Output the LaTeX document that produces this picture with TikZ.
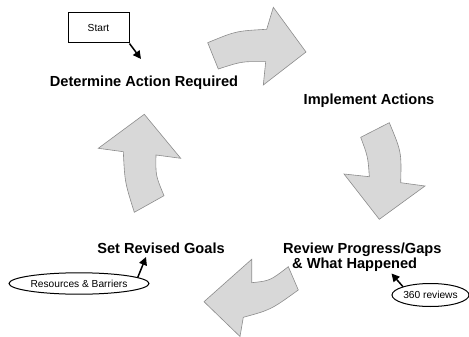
\documentclass[tikz,border=0pt]{standalone}
\usepackage{fontspec}
\setmainfont{Liberation Sans}
\usetikzlibrary{arrows.meta,shapes.geometric}
\definecolor{blockfill}{RGB}{216,216,216}
\definecolor{blockline}{RGB}{140,140,140}
\begin{document}
\begin{tikzpicture}[x=1pt,y=-1pt,
  block/.style={fill=blockfill,draw=blockline,line width=0.6pt,line join=miter},
  stagelabel/.style={font=\fontsize{14.6}{16}\selectfont\bfseries,inner sep=0pt},
  notelabel/.style={font=\fontsize{10.2}{12}\selectfont,inner sep=0pt},
  pointer/.style={draw=black,line width=1.5pt,-{Triangle[length=8pt,width=8pt]}}]
\useasboundingbox (0,0) rectangle (469,337);

% curved block arrows of the cycle
\path[block] (207.7,42.7) .. controls (236,31) .. (266.7,29.3) -- (273.3,7.3)
  -- (306,52) -- (263.3,85) -- (265.7,61.7) .. controls (242,61.3) .. (218.3,69) -- cycle;
\path[block] (360.7,137.3) -- (389.3,122.7) .. controls (401.5,152) .. (400.7,182.7)
  -- (425,186) -- (379.3,219.3) -- (344,174) -- (369.3,176.7)
  .. controls (368,157) .. cycle;
\path[block] (288.3,266.7) -- (298.3,290) .. controls (270.8,309.8) .. (243.3,317.3)
  -- (240,336.5) -- (204,301.7) -- (251.7,259.3) -- (251.7,282.7)
  .. controls (270,280.8) .. cycle;
\path[block] (134.3,212.3) .. controls (124.8,182) .. (123.3,151.7) -- (98.3,148.3)
  -- (144.3,114.3) -- (180.7,158.3) -- (156,155) .. controls (155.6,175.4) .. (164,195.7) -- cycle;

% stage labels
\node[stagelabel,anchor=base] (determine) at (144,86.2) {Determine Action Required};
\node[stagelabel,anchor=base] (implement) at (369,104.2) {Implement Actions};
\node[stagelabel,anchor=base west] (review) at (283,253) {Review Progress/Gaps};
\node[stagelabel,anchor=base west] (happened) at (292,268.3) {\& What Happened};
\node[stagelabel,anchor=base] (revise) at (161,253) {Set Revised Goals};

% notes
\node[notelabel,draw=black,line width=1pt,rectangle,minimum width=61pt,minimum height=30pt]
  (start) at (98.5,28) {Start};
\node[notelabel,draw=black,line width=1pt,ellipse,minimum width=140pt,minimum height=21.4pt]
  (resources) at (79,283.5) {Resources \& Barriers};
\node[notelabel,draw=black,line width=1pt,ellipse,minimum width=76pt,minimum height=23pt]
  (reviews) at (430.5,295) {360 reviews};

\coordinate (starttip) at (141,59);
\coordinate (goalstip) at (146,257);
\coordinate (reviewtip) at (391.5,273.5);

\draw[pointer] (start.south east) -- (starttip);
\draw[pointer] (resources.6.5) -- (goalstip);
\draw[pointer] (reviews.163.5) -- (reviewtip);
\end{tikzpicture}
\end{document}
